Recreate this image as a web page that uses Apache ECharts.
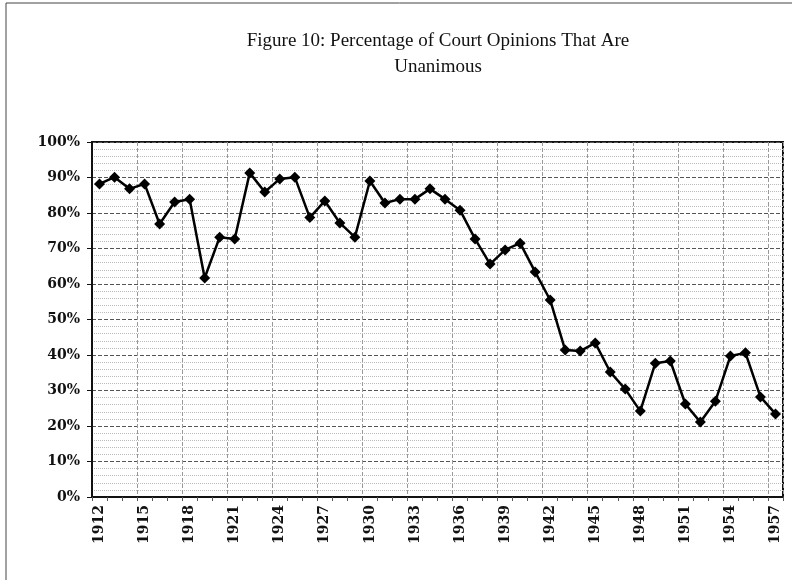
<!DOCTYPE html>
<html>
<head>
<meta charset="utf-8">
<script src="https://cdn.jsdelivr.net/npm/echarts@6/dist/echarts.min.js"></script>
<style>
  html, body { margin: 0; padding: 0; background: #fff; }
  #chart { width: 792px; height: 580px; }
</style>
</head>
<body>
<div id="chart"></div>
<script>
  // years on the x axis, one point per year
  var years = [];
  for (var y = 1912; y <= 1957; y++) years.push(String(y));

  // percentage of opinions that are unanimous
  var unanimous = [
    88.2, 90.1, 86.8, 88.2, 76.9, 83.1, 83.9, 61.7, 73.2, 72.7,
    91.3, 85.9, 89.6, 90.1, 78.7, 83.4, 77.2, 73.2, 89.0, 82.8,
    83.9, 83.9, 86.8, 83.9, 80.8, 72.7, 65.6, 69.6, 71.5, 63.4,
    55.5, 41.4, 41.1, 43.4, 35.2, 30.4, 24.2, 37.7, 38.3, 26.2,
    21.1, 27.0, 39.7, 40.6, 28.2, 23.4
  ];

  var titleLines = ["Figure 10: Percentage of Court Opinions That Are", "Unanimous"];

  var chart = echarts.init(document.getElementById("chart"));
  chart.setOption({
    backgroundColor: "#fff",
    animation: false,
    title: {
      text: titleLines.join("\n"),
      left: 433,
      top: 23,
      textAlign: "center",
      textStyle: {
        fontFamily: "Liberation Serif",
        fontSize: 19,
        fontWeight: "normal",
        color: "#111",
        lineHeight: 26
      }
    },
    graphic: [{
      type: "rect",
      shape: { x: 6, y: 3, width: 800, height: 600 },
      style: { fill: null, stroke: "#444", lineWidth: 1 },
      silent: true
    }],
    grid: {
      left: 92,
      right: 9,
      top: 142,
      bottom: 83,
      show: true,
      borderColor: "#111",
      borderWidth: 2
    },
    xAxis: {
      type: "category",
      data: years,
      boundaryGap: true,
      axisLine: { lineStyle: { color: "#111", width: 2 } },
      axisTick: { show: true, interval: 0, length: 4, lineStyle: { color: "#555" } },
      axisLabel: {
        interval: 2,
        rotate: 90,
        margin: 8,
        color: "#111",
        fontFamily: "DejaVu Serif",
        fontWeight: "bold",
        fontSize: 14
      },
      splitLine: {
        show: true,
        interval: 2,
        lineStyle: { color: "#999", type: "dashed", width: 1 }
      }
    },
    yAxis: {
      type: "value",
      min: 0,
      max: 100,
      interval: 10,
      axisLine: { show: true, lineStyle: { color: "#111", width: 2 } },
      axisTick: { show: true, length: 5, lineStyle: { color: "#111" } },
      axisLabel: {
        formatter: "{value}%",
        margin: 12,
        color: "#111",
        fontFamily: "DejaVu Serif",
        fontWeight: "bold",
        fontSize: 14
      },
      splitLine: { lineStyle: { color: "#555", type: "dashed", width: 1 } },
      minorTick: { show: false, splitNumber: 5 },
      minorSplitLine: { show: true, lineStyle: { color: "#bbb", type: "dotted", width: 1 } }
    },
    series: [{
      type: "line",
      data: unanimous,
      symbol: "diamond",
      symbolSize: 11,
      showAllSymbol: true,
      lineStyle: { color: "#000", width: 2.5 },
      itemStyle: { color: "#000" }
    }]
  });
</script>
</body>
</html>
